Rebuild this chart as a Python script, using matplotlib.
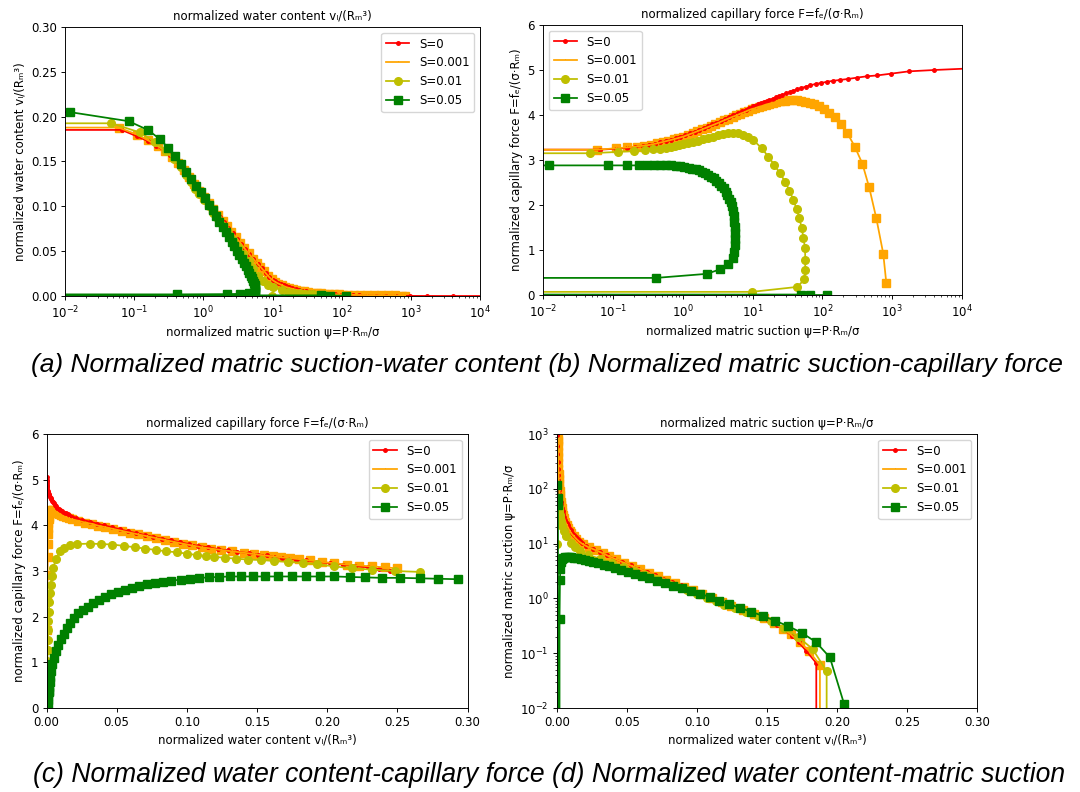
import matplotlib
matplotlib.use("Agg")
import matplotlib.pyplot as plt
from matplotlib.ticker import FixedLocator, LogFormatterSciNotation

# ---- values: one (suction, water content, force) triple per point ----
# S = 0
s0_psi = [30000, 4018, 1740, 977, 615, 433, 313, 232, 180, 144,
          118, 95, 80, 67, 58, 50, 44, 38.6, 34.2, 30.2,
          26.8, 24, 21.6, 19.4, 17.5, 15.9, 14.5, 13.1, 12.0, 11.0,
          10.1, 9.0, 8.0, 7.0, 6.1, 5.3, 4.6, 4.0, 3.5, 3.05,
          2.65, 2.3, 2.0, 1.72, 1.48, 1.27, 1.09, 0.93, 0.79, 0.67,
          0.57, 0.48, 0.40, 0.33, 0.27, 0.21, 0.16, 0.11, 0.066,
          -0.03, -0.08, -0.14, -0.21, -0.29, -0.38, -0.48]
s0_vol = [0.0, 0.00002, 0.00006, 0.00012, 0.0002, 0.0003, 0.0004, 0.00055, 0.0007, 0.0009,
          0.0011, 0.0014, 0.0017, 0.0021, 0.0025, 0.003, 0.0035, 0.004, 0.0046, 0.0053,
          0.006, 0.0068, 0.0077, 0.0087, 0.0098, 0.011, 0.0122, 0.0136, 0.015, 0.0165,
          0.018, 0.021, 0.0255, 0.031, 0.036, 0.041, 0.0465, 0.0525, 0.058, 0.064,
          0.07, 0.076, 0.082, 0.0885, 0.095, 0.1015, 0.108, 0.115, 0.122, 0.1295,
          0.136, 0.144, 0.151, 0.157, 0.162, 0.1675, 0.1725, 0.178, 0.1852,
          0.193, 0.202, 0.211, 0.22, 0.229, 0.237, 0.245]
s0_force = [5.06, 5.00, 4.97, 4.92, 4.88, 4.86, 4.83, 4.80, 4.78, 4.76,
            4.74, 4.71, 4.69, 4.66, 4.63, 4.60, 4.57, 4.54, 4.51, 4.48,
            4.45, 4.42, 4.39, 4.36, 4.33, 4.31, 4.28, 4.26, 4.24, 4.21,
            4.19, 4.16, 4.12, 4.08, 4.04, 4.00, 3.96, 3.91, 3.87, 3.83,
            3.79, 3.75, 3.71, 3.67, 3.63, 3.59, 3.55, 3.52, 3.48, 3.45,
            3.42, 3.39, 3.36, 3.34, 3.31, 3.29, 3.27, 3.25, 3.23,
            3.20, 3.17, 3.14, 3.11, 3.08, 3.04, 3.00]

# S = 0.001
s1_psi = [824, 745, 594, 469, 374, 291, 229, 183, 150, 125,
          105, 90, 77, 66, 57, 50, 44, 38, 33, 29,
          25, 22, 19.5, 17.3, 15.4, 13.7, 12.2, 10.9, 9.7, 8.6,
          7.6, 6.7, 5.9, 5.2, 4.5, 3.9, 3.4, 2.95, 2.55, 2.2,
          1.9, 1.63, 1.4, 1.2, 1.02, 0.87, 0.74, 0.62, 0.52, 0.43,
          0.35, 0.28, 0.22, 0.16, 0.11, 0.06,
          -0.03, -0.09, -0.16, -0.24, -0.33, -0.43, -0.53]
s1_vol = [0.0004, 0.0005, 0.0006, 0.0007, 0.0008, 0.0009, 0.001, 0.0011, 0.0012, 0.0014,
          0.0016, 0.0018, 0.002, 0.0023, 0.0026, 0.003, 0.0034, 0.0039, 0.0045, 0.0052,
          0.006, 0.0069, 0.0079, 0.009, 0.0102, 0.012, 0.0138, 0.0158, 0.0185, 0.0225,
          0.0275, 0.0325, 0.037, 0.0418, 0.0475, 0.0535, 0.0595, 0.0655, 0.0718, 0.078,
          0.0842, 0.0905, 0.097, 0.1035, 0.1105, 0.1175, 0.1245, 0.1325, 0.1405, 0.148,
          0.155, 0.1615, 0.167, 0.1735, 0.18, 0.1878,
          0.196, 0.205, 0.214, 0.223, 0.232, 0.241, 0.2496]
s1_force = [0.27, 0.92, 1.70, 2.39, 2.92, 3.30, 3.59, 3.81, 3.95, 4.05,
            4.13, 4.19, 4.24, 4.27, 4.30, 4.32, 4.33, 4.33, 4.33, 4.32,
            4.31, 4.29, 4.27, 4.25, 4.23, 4.20, 4.18, 4.15, 4.13, 4.10,
            4.06, 4.03, 3.99, 3.96, 3.92, 3.88, 3.84, 3.80, 3.76, 3.72,
            3.68, 3.64, 3.60, 3.56, 3.52, 3.49, 3.46, 3.43, 3.40, 3.37,
            3.34, 3.32, 3.30, 3.28, 3.26, 3.23,
            3.20, 3.17, 3.14, 3.12, 3.10, 3.08, 3.06]

# S = 0.01
s2_psi = [-2, -0.5, 9.8, 44, 55.4, 56.8, 57.0, 56.5, 53.7, 50.8,
          47, 43, 38.6, 33.8, 29.3, 24.8, 20.6, 16.9, 13.6, 10.3,
          8.7, 7.4, 6.2, 5.3, 4.5, 3.8, 3.2, 2.7, 2.3, 1.95,
          1.65, 1.4, 1.2, 1.02, 0.88, 0.77, 0.67, 0.57, 0.47, 0.38,
          0.29, 0.2, 0.12, 0.047,
          -0.04, -0.1, -0.18, -0.27, -0.37]
s2_vol = [0.0, 0.00005, 0.0001, 0.0002, 0.0003, 0.0004, 0.0005, 0.0006, 0.0008, 0.001,
          0.0012, 0.0014, 0.0017, 0.002, 0.0024, 0.003, 0.0037, 0.0049, 0.0066, 0.0098,
          0.0128, 0.0165, 0.022, 0.031, 0.039, 0.047, 0.055, 0.063, 0.0705, 0.078,
          0.0855, 0.093, 0.1, 0.107, 0.1135, 0.1195, 0.127, 0.135, 0.1435, 0.1525,
          0.162, 0.172, 0.1825, 0.1926,
          0.205, 0.218, 0.232, 0.248, 0.266]
s2_force = [0.03, 0.06, 0.07, 0.18, 0.35, 0.56, 0.78, 1.04, 1.26, 1.48,
            1.70, 1.90, 2.11, 2.32, 2.52, 2.70, 2.89, 3.07, 3.26, 3.44,
            3.51, 3.56, 3.59, 3.60, 3.59, 3.58, 3.55, 3.52, 3.49, 3.46,
            3.43, 3.41, 3.38, 3.35, 3.33, 3.31, 3.29, 3.27, 3.25, 3.24,
            3.22, 3.20, 3.18, 3.15,
            3.10, 3.06, 3.03, 3.00, 2.98]

# S = 0.05
s3_psi = [117, 67, 50, -3, -1.5, -0.5, -0.1, 0.416, 2.21, 3.43,
          4.52, 5.2, 5.5, 5.62, 5.65, 5.63, 5.58, 5.5, 5.38, 5.23,
          5.05, 4.85, 4.62, 4.38, 4.12, 3.85, 3.58, 3.31, 3.05, 2.8,
          2.56, 2.33, 2.11, 1.9, 1.71, 1.53, 1.37, 1.22, 1.06, 0.91,
          0.79, 0.67, 0.57, 0.48, 0.39, 0.31, 0.235, 0.16, 0.084, 0.012,
          -0.05, -0.1, -0.16, -0.22, -0.29, -0.37, -0.46]
s3_vol = [0.0003, 0.0005, 0.0007, 0.0009, 0.0011, 0.0013, 0.0015, 0.0018, 0.0021, 0.0024,
          0.0028, 0.0034, 0.0042, 0.0054, 0.0068, 0.0084, 0.0102, 0.0122, 0.0145, 0.017,
          0.0198, 0.0228, 0.026, 0.0295, 0.0333, 0.0373, 0.0415, 0.046, 0.0507, 0.0556,
          0.0607, 0.066, 0.0715, 0.0772, 0.083, 0.089, 0.0955, 0.102, 0.109, 0.116,
          0.123, 0.1306, 0.1387, 0.147, 0.156, 0.1653, 0.175, 0.1849, 0.1949, 0.205,
          0.216, 0.227, 0.239, 0.252, 0.266, 0.279, 0.293]
s3_force = [0.0, 0.0, 0.01, 0.08, 0.17, 0.26, 0.36, 0.38, 0.47, 0.57,
            0.68, 0.82, 0.96, 1.10, 1.24, 1.38, 1.51, 1.63, 1.75, 1.87,
            1.98, 2.07, 2.14, 2.22, 2.30, 2.37, 2.43, 2.49, 2.54, 2.59,
            2.63, 2.67, 2.71, 2.74, 2.77, 2.79, 2.81, 2.83, 2.85, 2.86,
            2.87, 2.88, 2.88, 2.88, 2.88, 2.88, 2.88, 2.88, 2.88, 2.88,
            2.87, 2.86, 2.85, 2.85, 2.84, 2.83, 2.82]

labels = ["S=0", "S=0.001", "S=0.01", "S=0.05"]
psi_ticks = [1e-2, 1e-1, 1e0, 1e1, 1e2, 1e3, 1e4]
psi_ticks_d = [1e-2, 1e-1, 1e0, 1e1, 1e2, 1e3]

WATER = "normalized water content v\u2097/(R\u2098\u00b3)"
SUCTION = "normalized matric suction \u03c8=P\u00b7R\u2098/\u03c3"
FORCE = "normalized capillary force F=f\u2091/(\u03c3\u00b7R\u2098)"

captions = [
    "(a) Normalized matric suction-water content (b) Normalized matric suction-capillary force",
    "(c) Normalized water content-capillary force (d) Normalized water content-matric suction",
]

k = 0.845  # screenshot scale of the original notebook figures
plt.rcParams.update({
    "font.size": 10 * k,
    "axes.titlesize": 10 * k,
    "axes.linewidth": 0.8 * k,
    "lines.linewidth": 1.5 * k,
    "lines.markersize": 6.5 * k,
    "xtick.major.size": 3.5 * k, "ytick.major.size": 3.5 * k,
    "xtick.minor.size": 2 * k, "ytick.minor.size": 2 * k,
    "xtick.major.width": 0.8 * k, "ytick.major.width": 0.8 * k,
    "xtick.minor.width": 0.6 * k, "ytick.minor.width": 0.6 * k,
    "xtick.major.pad": 3.5 * k, "ytick.major.pad": 3.5 * k,
    "axes.labelpad": 4 * k, "axes.titlepad": 6 * k,
})

data = {
    "psi": [s0_psi, s1_psi, s2_psi, s3_psi],
    "vol": [s0_vol, s1_vol, s2_vol, s3_vol],
    "force": [s0_force, s1_force, s2_force, s3_force],
}


def draw(ax, xk, yk):
    xs, ys = data[xk], data[yk]
    # orange squares sit under the other curves, its legend entry is a plain line
    ax.plot(xs[1], ys[1], "s", color="orange", ms=6.5 * k)
    ax.plot(xs[0], ys[0], ".-", color="r", ms=6 * k, label=labels[0])
    ax.plot(xs[1], ys[1], ",-", color="orange", label=labels[1])
    ax.plot(xs[2], ys[2], "o-", color="y", label=labels[2])
    ax.plot(xs[3], ys[3], "s-", color="g", label=labels[3])


def log_axis(axis, ticks):
    axis.set_major_locator(FixedLocator(ticks))
    axis.set_major_formatter(LogFormatterSciNotation())


fig = plt.figure(figsize=(10.8, 7.92), dpi=100)
W, H = 1080.0, 792.0


def axes_px(l, t, r, b):
    return fig.add_axes([l / W, 1 - b / H, (r - l) / W, (b - t) / H])


# (a)
ax = axes_px(65, 27, 480, 296)
draw(ax, "psi", "vol")
ax.set_xscale("log")
log_axis(ax.xaxis, psi_ticks)
ax.set_xlim(1e-2, 1e4)
ax.set_ylim(0, 0.30)
ax.set_title(WATER)
ax.set_xlabel(SUCTION)
ax.set_ylabel(WATER)
ax.legend(loc="upper right")

# (b)
ax = axes_px(543, 25, 962, 295)
draw(ax, "psi", "force")
ax.set_xscale("log")
log_axis(ax.xaxis, psi_ticks)
ax.set_xlim(1e-2, 1e4)
ax.set_ylim(0, 6)
ax.set_title(FORCE)
ax.set_xlabel(SUCTION)
ax.set_ylabel(FORCE)
ax.legend(loc="upper left")

# (c)
ax = axes_px(46.5, 434, 467.5, 708)
draw(ax, "vol", "force")
ax.set_xlim(0, 0.30)
ax.set_ylim(0, 6)
ax.set_title(FORCE)
ax.set_xlabel(WATER)
ax.set_ylabel(FORCE)
ax.legend(loc="upper right")

# (d)
ax = axes_px(557, 434, 977, 708)
draw(ax, "vol", "psi")
ax.set_yscale("log")
log_axis(ax.yaxis, psi_ticks_d)
ax.set_xlim(0, 0.30)
ax.set_ylim(1e-2, 1e3)
ax.set_title(SUCTION)
ax.set_xlabel(WATER)
ax.set_ylabel(SUCTION)
ax.legend(loc="upper right")

fig.text(31 / W, 1 - 365 / H, captions[0], ha="left", va="center",
         family="Liberation Sans", style="italic", fontsize=19)
fig.text(33 / W, 1 - 775 / H, captions[1], ha="left", va="center",
         family="Liberation Sans", style="italic", fontsize=19.1)

fig.savefig("out.png", dpi=100)
